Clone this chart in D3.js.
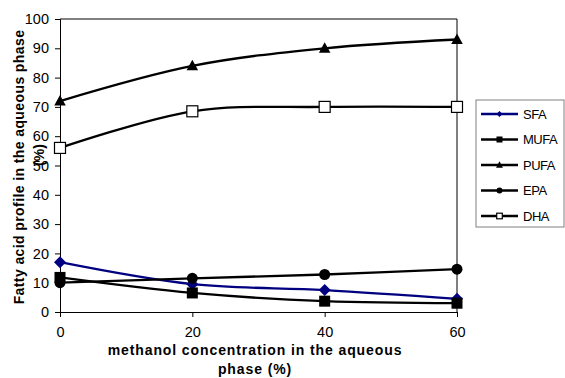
<!DOCTYPE html>
<html>
<head>
<meta charset="utf-8">
<script src="https://cdn.jsdelivr.net/npm/d3@7"></script>
<style>
  body { margin: 0; background: #fff; }
  svg { font-family: "Liberation Sans", Arial, sans-serif; }
</style>
</head>
<body>
<svg></svg>
<script>
const methanol = [0, 20, 40, 60]; // x values (%)
const sfa  = [17, 9.5, 7.5, 4.5];
const mufa = [11.8, 6.5, 3.7, 3];
const pufa = [72, 84, 90, 93];
const epa  = [10, 11.5, 12.8, 14.6];
const dha  = [56, 68.5, 70, 70];
const seriesNames = ["SFA", "MUFA", "PUFA", "EPA", "DHA"];
const yTicks = [0, 10, 20, 30, 40, 50, 60, 70, 80, 90, 100];
const xTicks = [0, 20, 40, 60];

const series = [
  {name: seriesNames[0], values: sfa,  color: "#000080", marker: "diamond"},
  {name: seriesNames[1], values: mufa, color: "#000", marker: "square"},
  {name: seriesNames[2], values: pufa, color: "#000", marker: "triangle"},
  {name: seriesNames[3], values: epa,  color: "#000", marker: "circle"},
  {name: seriesNames[4], values: dha,  color: "#000", marker: "open"}
];

const W = 565, H = 378;
const margin = {top: 19, right: 108, bottom: 66, left: 60},
      width = W - margin.left - margin.right,
      height = H - margin.top - margin.bottom;

const svg = d3.select("svg").attr("width", W).attr("height", H);
const g = svg.append("g")
  .attr("transform", "translate(" + margin.left + "," + margin.top + ")");

const x = d3.scaleLinear().domain([0, 60]).range([0, width]);
const y = d3.scaleLinear().domain([0, 100]).range([height, 0]);

// plot frame (top and right)
g.append("path")
  .attr("d", `M0,0H${width}V${height}`)
  .attr("fill", "none").attr("stroke", "#000").attr("stroke-width", 1);

const yAxis = g.append("g")
  .call(d3.axisLeft(y).tickValues(yTicks).tickSize(5).tickPadding(6));
const xAxis = g.append("g")
  .attr("transform", "translate(0," + height + ")")
  .call(d3.axisBottom(x).tickValues(xTicks).tickSize(5).tickPadding(10));
[yAxis, xAxis].forEach(a => {
  a.select(".domain").attr("stroke", "#000");
  a.selectAll(".tick line").attr("stroke", "#000");
  a.selectAll("text").attr("font-size", 14.5).attr("fill", "#000")
    .attr("font-family", "Liberation Sans, Arial, sans-serif");
});

// smoothed lines like the spreadsheet
const line = d3.line()
  .x((d, i) => x(methanol[i]))
  .y(d => y(d))
  .curve(d3.curveCardinal.tension(0));

g.selectAll(".line")
  .data(series)
  .join("path")
    .attr("class", "line")
    .attr("fill", "none")
    .attr("stroke", d => d.color)
    .attr("stroke-width", 2.3)
    .attr("d", d => line(d.values));

function drawMarker(sel, type, color, s) {
  if (type === "diamond") {
    sel.append("path").attr("d", `M0,${-s}L${s},0L0,${s}L${-s},0Z`).attr("fill", color);
  } else if (type === "square") {
    sel.append("rect").attr("x", -s).attr("y", -s).attr("width", 2 * s).attr("height", 2 * s).attr("fill", color);
  } else if (type === "triangle") {
    sel.append("path").attr("d", `M0,${-s * 1.1}L${s * 1.05},${s * 0.8}L${-s * 1.05},${s * 0.8}Z`).attr("fill", color);
  } else if (type === "circle") {
    sel.append("circle").attr("r", s).attr("fill", color);
  } else {
    sel.append("rect").attr("x", -s).attr("y", -s).attr("width", 2 * s).attr("height", 2 * s)
      .attr("fill", "#fff").attr("stroke", color).attr("stroke-width", 1.2);
  }
}

series.forEach(s => {
  s.values.forEach((v, i) => {
    const m = g.append("g").attr("transform", `translate(${x(methanol[i])},${y(v)})`);
    drawMarker(m, s.marker, s.color, s.marker === "diamond" ? 6 : 5.5);
  });
});

// axis titles
svg.append("text")
  .attr("transform", "translate(24,167) rotate(-90)")
  .attr("text-anchor", "middle")
  .attr("font-size", 14).attr("font-weight", "bold")
  .attr("letter-spacing", 0.4)
  .text("Fatty acid profile in the aqueous phase");
svg.append("text")
  .attr("transform", "translate(44,155) rotate(-90)")
  .attr("text-anchor", "middle")
  .attr("font-size", 14).attr("font-weight", "bold")
  .text("(%)");

const xTitle = svg.append("text")
  .attr("text-anchor", "middle")
  .attr("font-size", 14).attr("font-weight", "bold")
  .attr("letter-spacing", 0.9);
xTitle.append("tspan").attr("x", 255).attr("y", 355).text("methanol concentration in the aqueous");
xTitle.append("tspan").attr("x", 255).attr("y", 374).text("phase (%)");

// legend
const legend = svg.append("g").attr("transform", "translate(476,100)");
legend.append("rect")
  .attr("width", 88).attr("height", 127)
  .attr("fill", "#fff").attr("stroke", "#808080").attr("stroke-width", 1);

const item = legend.selectAll(".legend-item")
  .data(series)
  .join("g")
    .attr("class", "legend-item")
    .attr("transform", (d, i) => `translate(0,${14 + i * 25.5})`);
item.append("line")
  .attr("x1", 5).attr("x2", 42)
  .attr("stroke", d => d.color).attr("stroke-width", 2.3);
item.each(function(d) {
  const m = d3.select(this).append("g").attr("transform", "translate(23.5,0)");
  drawMarker(m, d.marker, d.color, d.marker === "triangle" ? 3.3 : d.marker === "open" ? 2.8 : 3);
});
item.append("text")
  .attr("x", 47).attr("dy", "0.35em")
  .attr("font-size", 13)
  .attr("letter-spacing", -0.5)
  .text(d => d.name);
</script>
</body>
</html>
